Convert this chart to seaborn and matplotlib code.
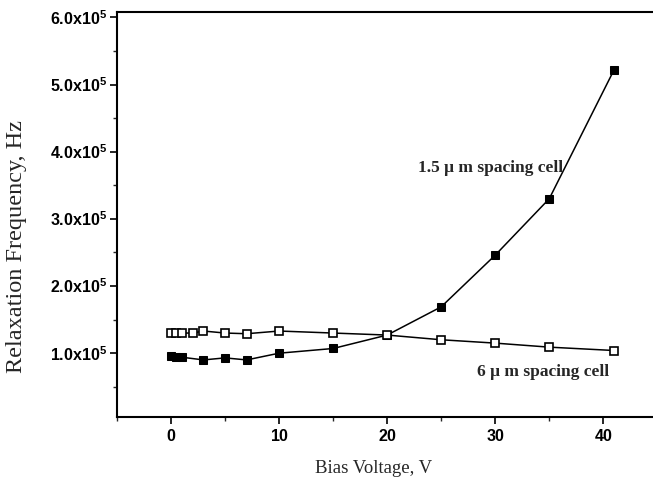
import numpy as np
import pandas as pd
import matplotlib
matplotlib.use("Agg")
import matplotlib.pyplot as plt
import seaborn as sns
from matplotlib.ticker import MultipleLocator, FuncFormatter

# data (relaxation frequency in units of 1e5 Hz)
volt_15 = [0, 0.5, 1, 3, 5, 7, 10, 15, 20, 25, 30, 35, 41]
freq_15 = [0.96, 0.95, 0.94, 0.90, 0.93, 0.90, 1.00, 1.07, 1.27, 1.69, 2.46, 3.30, 5.22]
volt_6 = [0, 0.5, 1, 2, 3, 5, 7, 10, 15, 20, 25, 30, 35, 41]
freq_6 = [1.30, 1.30, 1.30, 1.30, 1.33, 1.30, 1.29, 1.33, 1.30, 1.27, 1.20, 1.15, 1.09, 1.04]

df15 = pd.DataFrame({"V": volt_15, "f": np.array(freq_15) * 1e5})
df6 = pd.DataFrame({"V": volt_6, "f": np.array(freq_6) * 1e5})

sns.set_style("ticks")
plt.rcParams['font.family'] = ['Liberation Serif', 'DejaVu Serif']
plt.rcParams['mathtext.fontset'] = 'custom'
plt.rcParams['mathtext.rm'] = 'Liberation Sans:bold'
plt.rcParams['mathtext.default'] = 'rm'

fig = plt.figure(figsize=(6.53, 4.82), dpi=100)
ax = fig.add_axes([117/653, 65/482, 1 - 117/653, (417 - 12)/482])

sns.lineplot(data=df15, x="V", y="f", ax=ax, color="black", lw=1.1,
             marker="s", markersize=6, markerfacecolor="black",
             markeredgecolor="black", sort=False)
sns.lineplot(data=df6, x="V", y="f", ax=ax, color="black", lw=1.1,
             marker="s", markersize=6, markerfacecolor="white",
             markeredgecolor="black", markeredgewidth=1.2, sort=False)

ax.set_xlim(-5, 44.6)
ax.set_ylim(0.05e5, 6.08e5)
ax.xaxis.set_major_locator(MultipleLocator(10))
ax.xaxis.set_minor_locator(MultipleLocator(5))
ax.yaxis.set_major_locator(MultipleLocator(1e5))
ax.yaxis.set_minor_locator(MultipleLocator(0.5e5))

ax.yaxis.set_major_formatter(FuncFormatter(
    lambda v, p: "" if v < 0.9e5 else r"$%.1f\mathrm{x}10^{5}$" % (v / 1e5)))
ax.xaxis.set_major_formatter(FuncFormatter(lambda v, p: r"$%d$" % v))

ax.tick_params(which="major", direction="out", length=5, width=1.2, labelsize=11.5, colors="black")
ax.tick_params(which="minor", direction="out", length=3, width=1.0)
ax.tick_params(axis="y", pad=2)
for s in ["left", "bottom", "top"]:
    ax.spines[s].set_linewidth(1.5)
    ax.spines[s].set_color("black")
ax.spines["right"].set_visible(False)
ax.tick_params(top=False, right=False)

ax.set_xlabel("Bias Voltage, V", fontsize=13.5)
ax.set_ylabel("Relaxation Frequency, Hz", fontsize=17.5)
ax.xaxis.set_label_coords(0.478, -0.105)
ax.yaxis.set_label_coords(-0.168, 0.42)

ax.text(22.9, 3.75e5, "1.5 \u03bc m spacing cell", fontsize=12.5, fontweight="bold",
        va="center", ha="left")
ax.text(28.3, 0.72e5, "6 \u03bc m spacing cell", fontsize=12.5, fontweight="bold",
        va="center", ha="left")

fig.savefig("out.png", dpi=100)
